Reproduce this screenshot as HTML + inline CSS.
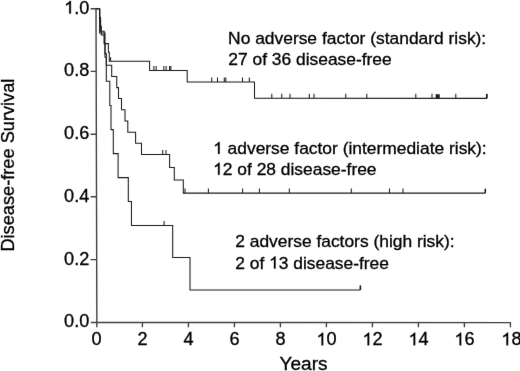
<!DOCTYPE html>
<html>
<head>
<meta charset="utf-8">
<title>Disease-free Survival</title>
<style>
html,body{margin:0;padding:0;background:#fff;}
body{width:520px;height:371px;overflow:hidden;}
svg{display:block;font-family:"Liberation Sans",sans-serif;filter:url(#soft);}
.ln{fill:none;stroke:#1a1a1a;stroke-width:1.05;stroke-linecap:butt;stroke-linejoin:miter;}
.ax{fill:none;stroke:#404040;stroke-width:1.4;}
.tk{fill:none;stroke:#1c1c1c;stroke-width:1.05;}
.lab{font-size:17.6px;fill:#000;stroke:#000;stroke-width:0.3px;}
.ann{font-size:16.8px;fill:#000;stroke:#000;stroke-width:0.3px;}
.h{fill:none;stroke:none;}
.one{fill:#000;stroke:#000;stroke-width:0.3px;vector-effect:non-scaling-stroke;}
.ttl{font-size:18.05px;fill:#000;stroke:#000;stroke-width:0.3px;}
</style>
</head>
<body>
<svg width="520" height="371" viewBox="0 0 520 371">
<defs>
<filter id="soft" x="0" y="0" width="100%" height="100%" filterUnits="objectBoundingBox" color-interpolation-filters="sRGB">
<feColorMatrix type="saturate" values="0"/>
<feConvolveMatrix order="3" kernelMatrix="0.005 0.045 0.005 0.045 0.8 0.045 0.005 0.045 0.005" edgeMode="duplicate" preserveAlpha="true"/>
</filter>
</defs>
<rect width="520" height="371" fill="#fff"/>

<!-- axes -->
<path class="ax" d="M96.0 8.2L96.85 322.5M96.2 322.45L510.8 322.65"/>
<!-- y ticks -->
<path class="ax" d="M90.6 8.8H99.7M90.6 71.4H96.3M90.6 134.2H96.4M90.6 196.8H96.6M90.6 259.6H96.7M90.8 322.45H96.8"/>
<!-- x ticks -->
<path class="ax" d="M96.8 322.5V327.2M142.4 322.6V327.3M188.4 322.6V327.3M234.4 322.6V327.3M280.4 322.6V327.3M326.4 322.6V327.3M372.4 322.6V327.3M418.4 322.6V327.3M464.4 322.6V327.3M510.4 322.6V327.3"/>

<!-- y tick labels -->
<g class="lab" text-anchor="end">
<g transform="translate(89.3 13.5) scale(1.03 1)"><text><tspan class="h">1</tspan>.0</text><path class="one" transform="translate(-24.459 0) scale(0.008594 -0.008594)" d="M763 0H583V1147Q518 1085 412.5 1023T223 930V1104Q373 1174 485 1275T644 1466H763Z"/></g>
<text transform="translate(89.3 76.2) scale(1.03 1)">0.8</text>
<text transform="translate(89.3 139.0) scale(1.03 1)">0.6</text>
<text transform="translate(89.3 201.7) scale(1.03 1)">0.4</text>
<text transform="translate(89.3 264.5) scale(1.03 1)">0.2</text>
<text transform="translate(89.3 327.2) scale(1.03 1)">0.0</text>
</g>
<!-- x tick labels -->
<g class="lab" text-anchor="middle">
<text transform="translate(96.5 345.3) scale(1.03 1)">0</text>
<text transform="translate(142.5 345.3) scale(1.03 1)">2</text>
<text transform="translate(188.5 345.3) scale(1.03 1)">4</text>
<text transform="translate(234.5 345.3) scale(1.03 1)">6</text>
<text transform="translate(280.5 345.3) scale(1.03 1)">8</text>
<g transform="translate(326.5 345.3) scale(1.03 1)"><text><tspan class="h">1</tspan>0</text><path class="one" transform="translate(-9.790 0) scale(0.008594 -0.008594)" d="M763 0H583V1147Q518 1085 412.5 1023T223 930V1104Q373 1174 485 1275T644 1466H763Z"/></g>
<g transform="translate(372.5 345.3) scale(1.03 1)"><text><tspan class="h">1</tspan>2</text><path class="one" transform="translate(-9.790 0) scale(0.008594 -0.008594)" d="M763 0H583V1147Q518 1085 412.5 1023T223 930V1104Q373 1174 485 1275T644 1466H763Z"/></g>
<g transform="translate(418.5 345.3) scale(1.03 1)"><text><tspan class="h">1</tspan>4</text><path class="one" transform="translate(-9.790 0) scale(0.008594 -0.008594)" d="M763 0H583V1147Q518 1085 412.5 1023T223 930V1104Q373 1174 485 1275T644 1466H763Z"/></g>
<g transform="translate(464.5 345.3) scale(1.03 1)"><text><tspan class="h">1</tspan>6</text><path class="one" transform="translate(-9.790 0) scale(0.008594 -0.008594)" d="M763 0H583V1147Q518 1085 412.5 1023T223 930V1104Q373 1174 485 1275T644 1466H763Z"/></g>
<g transform="translate(511.4 345.3) scale(1.03 1)"><text><tspan class="h">1</tspan>8</text><path class="one" transform="translate(-9.790 0) scale(0.008594 -0.008594)" d="M763 0H583V1147Q518 1085 412.5 1023T223 930V1104Q373 1174 485 1275T644 1466H763Z"/></g>
</g>
<text class="ttl" text-anchor="middle" transform="translate(303.5 369.8) scale(1.055 1)">Years</text>
<text class="ttl" text-anchor="middle" style="font-size:18.2px" transform="translate(14.3 165.1) rotate(-90) scale(1 1.03)">Disease-free Survival</text>

<!-- curve 1: standard risk -->
<path class="ln" d="M96.2 8.8H99.7V17.5H100.5V26.2H101.3V34.9H104.3V43.6H108.4V52.3H109.3V61.3H149.6V70.45H187.2V81.9H254.5V98.15L487 98.35"/>
<!-- curve 2: intermediate risk -->
<path class="ln" d="M99.7 8.8V20H100.6V31.3H104.2V43.2H105V53.6H106.3V65.2H111.7V76.5H116.75V87.6H118.5V98.5H121.5V109.7H125V120.9H127.8V132.2H135.6V143.3H141.5V154.5H169.6V167.4H174.3V179.9H183.3V193.1H485.5"/>
<!-- curve 3: high risk -->
<path class="ln" d="M99.6 8.8V32.9H105V57.2H106.3V81.3H109.8V105.5H111V129.6H113.3V153.6H118.1V177.6H128.3V201.4H131.45V225.5H172.7V257.45H190V289.95H360.4"/>

<!-- censor ticks curve 1 -->
<path class="tk" d="M110.60 57.30V61.30
M153.85 65.95V70.45M156.15 65.95V70.45M163.85 65.95V70.45M166.15 65.95V70.45M169.60 65.95V70.45M170.85 65.95V70.45
M211.75 77.40V81.90M217.50 77.40V81.90M224.30 77.40V81.90M225.80 77.40V81.90M242.50 77.40V81.90M249.30 77.40V81.90
M271.80 93.70V98.20M281.80 93.70V98.20M290.00 93.70V98.20M309.30 93.70V98.20M314.00 93.70V98.20M345.80 93.70V98.20M366.80 93.70V98.20M415.80 93.70V98.20M432.00 93.70V98.20M436.20 94.30V98.30M437.20 94.30V98.30M438.20 94.30V98.30M439.20 94.30V98.30M455.80 93.85V98.35M487.00 93.85V98.35"/>
<!-- censor ticks curve 2 -->
<path class="tk" d="M162.70 150.00V154.50M166.00 150.00V154.50
M185.00 188.60V193.10M208.40 188.60V193.10M242.60 188.60V193.10M259.40 188.60V193.10M289.30 188.60V193.10M351.30 188.60V193.10M389.50 188.60V193.10M403.00 188.60V193.10M485.50 188.60V193.10"/>
<!-- censor ticks curve 3 -->
<path class="tk" d="M164.10 221.00V225.50M360.40 285.45V289.95"/>

<path class="tk" style="stroke-width:1.5" d="M486.7 93.9V98.35M485.3 189V193.1M360.4 285.6V289.95"/>
<!-- annotations -->
<g class="ann">
<text transform="translate(228.1 43.5) scale(1.036 1)">No adverse factor (standard risk):</text>
<text transform="translate(228.3 64.8) scale(1.036 1)">27 of 36 disease-free</text>
<g transform="translate(213.1 154.0) scale(1.036 1)"><text><tspan class="h">1</tspan> adverse factor (intermediate risk):</text><path class="one" transform="translate(0.000 0) scale(0.008203 -0.008203)" d="M763 0H583V1147Q518 1085 412.5 1023T223 930V1104Q373 1174 485 1275T644 1466H763Z"/></g>
<g transform="translate(213.1 174.8) scale(1.036 1)"><text><tspan class="h">1</tspan>2 of 28 disease-free</text><path class="one" transform="translate(0.000 0) scale(0.008203 -0.008203)" d="M763 0H583V1147Q518 1085 412.5 1023T223 930V1104Q373 1174 485 1275T644 1466H763Z"/></g>
<text transform="translate(235.2 247.2) scale(1.036 1)">2 adverse factors (high risk):</text>
<g transform="translate(235.2 268.5) scale(1.036 1)"><text>2 of <tspan class="h">1</tspan>3 disease-free</text><path class="one" transform="translate(32.657 0) scale(0.008203 -0.008203)" d="M763 0H583V1147Q518 1085 412.5 1023T223 930V1104Q373 1174 485 1275T644 1466H763Z"/></g>
</g>
</svg>
</body>
</html>
